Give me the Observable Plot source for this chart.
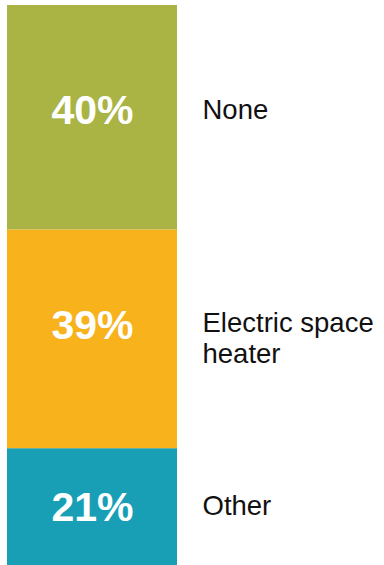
<!DOCTYPE html>
<html>
<head>
<meta charset="utf-8">
<script src="https://cdn.jsdelivr.net/npm/d3@7"></script>
<script src="https://cdn.jsdelivr.net/npm/@observablehq/plot@0.6"></script>
<style>
  html, body { margin: 0; padding: 0; background: #fff; }
  #chart svg { display: block; }
</style>
</head>
<body>
<div id="chart"></div>
<script>
// Data (stack order: bottom to top)
const categories = ["Other", "Electric space heater", "None"];
const labels = ["Other", "Electric space\nheater", "None"];
const values = [21, 39, 40];
const colors = ["#189FB5", "#F7B21C", "#AAB445"];

const data = categories.map((c, i) => ({
  group: "All",
  category: c,
  label: labels[i],
  value: values[i]
}));

const pctOffsets = {"None": -7, "Electric space heater": -13, "Other": 0};
const labOffsets = {"None": -9, "Electric space heater": -2, "Other": -3};

const font = "Liberation Sans, Arial, Helvetica, sans-serif";

const pctMarks = categories.map(c =>
  Plot.text(data, Plot.filter(d => d.category === c, Plot.stackY({
    x: "group", y: "value",
    text: d => d.value + "%",
    fill: "white", fontWeight: "bold", fontSize: 41,
    dy: pctOffsets[c]
  })))
);
const labMarks = categories.map(c =>
  Plot.text(data, Plot.filter(d => d.category === c, Plot.stackY({
    x: "group", y: "value",
    text: "label",
    fill: "#111", fontSize: 27.5, lineHeight: 1.16,
    textAnchor: "start", dx: 110,
    dy: labOffsets[c]
  })))
);

const chart = Plot.plot({
  width: 384,
  height: 565,
  margin: 0,
  style: { fontFamily: font, background: "#fff" },
  x: { type: "band", domain: ["All"], range: [7, 177], padding: 0, axis: null },
  y: { domain: [0, 100], range: [566, 5], axis: null },
  color: { domain: categories, range: colors },
  marks: [
    Plot.barY(data, Plot.stackY({
      x: "group", y: "value", fill: "category", order: null
    })),
    ...pctMarks,
    ...labMarks
  ]
});

document.getElementById("chart").appendChild(chart);
</script>
</body>
</html>
